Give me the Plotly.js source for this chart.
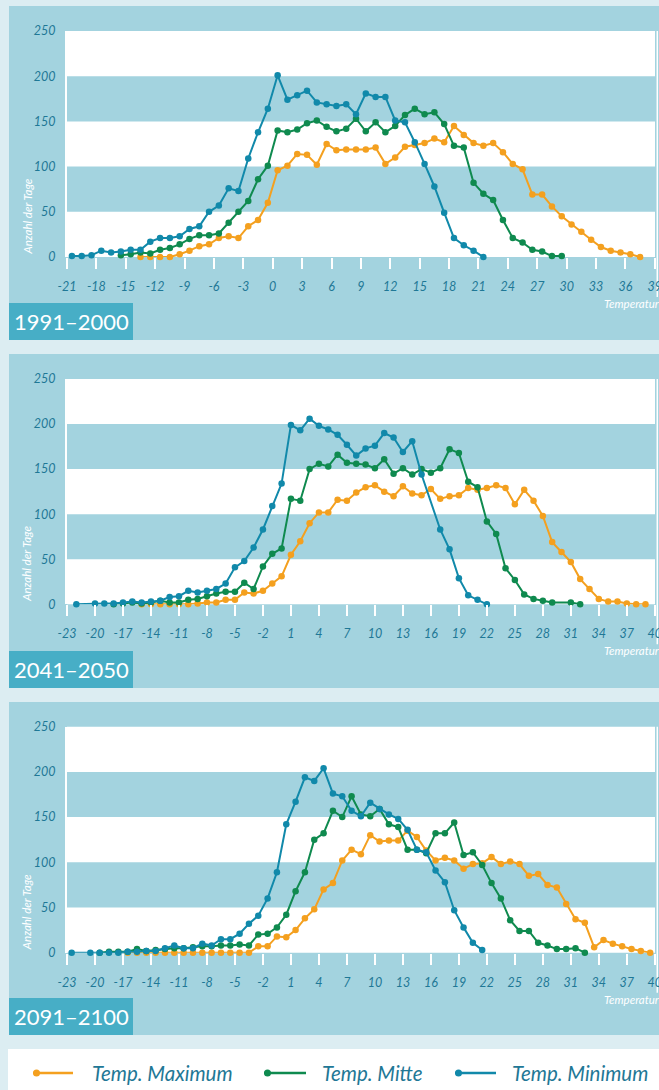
<!DOCTYPE html>
<html><head><meta charset="utf-8">
<script src="https://cdn.plot.ly/plotly-3.0.1.min.js"></script>
<style>html,body{margin:0;padding:0;background:#dcedf2;}#chart{width:659px;height:1090px;}</style>
</head><body><div id="chart"></div>
<script>
// ---------- DATA ----------
const seriesNames = ["Temp. Maximum", "Temp. Mitte", "Temp. Minimum"];
const periods = ["1991–2000", "2041–2050", "2091–2100"];
const yTickVals = [0, 50, 100, 150, 200, 250];

// 1991–2000
const p1MaxT = [-13.5,-12.5,-11.5,-10.5,-9.5,-8.5,-7.5,-6.5,-5.5,-4.5,-3.5,-2.5,-1.5,-0.5,0.5,1.5,2.5,3.5,4.5,5.5,6.5,7.5,8.5,9.5,10.5,11.5,12.5,13.5,14.5,15.5,16.5,17.5,18.5,19.5,20.5,21.5,22.5,23.5,24.5,25.5,26.5,27.5,28.5,29.5,30.5,31.5,32.5,33.5,34.5,35.5,36.5,37.5];
const p1MaxN = [0,0,0,0,3,7,12,14,21,23,21,34,41,60,96,101,114,113,102,125,118,119,119,119,121,103,110,122,124,126,131,127,145,135,126,123,126,116,103,97,69,69,56,45,36,28,19,11,7,5,3,0];
const p1MidT = [-15.5,-14.5,-13.5,-12.5,-11.5,-10.5,-9.5,-8.5,-7.5,-6.5,-5.5,-4.5,-3.5,-2.5,-1.5,-0.5,0.5,1.5,2.5,3.5,4.5,5.5,6.5,7.5,8.5,9.5,10.5,11.5,12.5,13.5,14.5,15.5,16.5,17.5,18.5,19.5,20.5,21.5,22.5,23.5,24.5,25.5,26.5,27.5,28.5,29.5];
const p1MidN = [2,3,5,4,8,10,14,20,24,24,26,38,50,62,86,101,140,138,141,148,151,144,139,142,153,139,149,138,145,157,164,158,160,147,123,121,82,70,63,41,21,16,8,6,1,1];
const p1MinT = [-20.5,-19.5,-18.5,-17.5,-16.5,-15.5,-14.5,-13.5,-12.5,-11.5,-10.5,-9.5,-8.5,-7.5,-6.5,-5.5,-4.5,-3.5,-2.5,-1.5,-0.5,0.5,1.5,2.5,3.5,4.5,5.5,6.5,7.5,8.5,9.5,10.5,11.5,12.5,13.5,14.5,15.5,16.5,17.5,18.5,19.5,20.5,21.5];
const p1MinN = [1,1,2,7,5,6,8,8,17,21,21,23,31,34,50,57,76,73,109,138,164,201,174,179,184,171,169,167,169,158,181,177,177,151,149,127,103,78,49,21,13,7,0];

// 2041–2050
const p2MaxT = [-15,-14,-13,-12,-11,-10,-9,-8,-7,-6,-5,-4,-3,-2,-1,0,1,2,3,4,5,6,7,8,9,10,11,12,13,14,15,16,17,18,19,20,21,22,23,24,25,26,27,28,29,30,31,32,33,34,35,36,37,38,39];
const p2MaxN = [0,0,0,0,0,0,1,2,2,5,5,13,12,15,23,31,55,70,90,102,102,116,115,124,130,132,125,120,131,123,121,128,117,120,121,129,127,129,132,129,111,127,115,98,69,58,47,28,17,6,3,3,1,0,0];
const p2MidT = [-18,-17,-16,-15,-14,-13,-12,-11,-10,-9,-8,-7,-6,-5,-4,-3,-2,-1,0,1,2,3,4,5,6,7,8,9,10,11,12,13,14,15,16,17,18,19,20,21,22,23,24,25,26,27,28,29,31,32];
const p2MidN = [0,1,2,1,2,4,2,2,5,6,9,12,14,14,24,17,42,56,62,117,115,150,156,153,166,157,156,155,151,161,145,151,144,150,146,151,172,168,136,130,92,78,40,27,11,6,4,2,2,0];
const p2MinT = [-22,-20,-19,-18,-17,-16,-15,-14,-13,-12,-11,-10,-9,-8,-7,-6,-5,-4,-3,-2,-1,0,1,2,3,4,5,6,7,8,9,10,11,12,13,14,15,17,18,19,20,21,22];
const p2MinN = [0,1,1,1,2,3,2,3,4,8,9,15,13,15,17,23,41,48,63,83,109,134,199,193,206,198,194,188,177,165,173,176,190,185,169,181,144,83,61,29,10,5,0];

// 2091–2100
const p3MaxT = [-16.5,-15.5,-14.5,-13.5,-12.5,-11.5,-10.5,-9.5,-8.5,-7.5,-6.5,-5.5,-4.5,-3.5,-2.5,-1.5,-0.5,0.5,1.5,2.5,3.5,4.5,5.5,6.5,7.5,8.5,9.5,10.5,11.5,12.5,13.5,14.5,15.5,16.5,17.5,18.5,19.5,20.5,21.5,22.5,23.5,24.5,25.5,26.5,27.5,28.5,29.5,30.5,31.5,32.5,33.5,34.5,35.5,36.5,37.5,38.5,39.5];
const p3MaxN = [0,0,0,0,0,0,0,0,0,0,0,0,0,0,7,7,18,17,25,38,48,70,77,102,114,109,130,123,124,124,135,128,113,102,105,102,93,98,99,106,98,101,98,85,87,75,72,54,37,33,6,14,10,7,4,2,0];
const p3MidT = [-19.5,-18.5,-17.5,-16.5,-15.5,-14.5,-13.5,-12.5,-11.5,-10.5,-9.5,-8.5,-7.5,-6.5,-5.5,-4.5,-3.5,-2.5,-1.5,-0.5,0.5,1.5,2.5,3.5,4.5,5.5,6.5,7.5,8.5,9.5,10.5,11.5,12.5,13.5,14.5,15.5,16.5,17.5,18.5,19.5,20.5,21.5,22.5,23.5,24.5,25.5,26.5,27.5,28.5,29.5,30.5,31.5,32.5];
const p3MidN = [0,1,1,1,4,2,3,4,5,5,6,7,7,8,8,9,8,20,21,28,42,68,89,125,132,157,150,173,153,151,159,142,139,114,114,110,132,132,144,108,111,97,77,60,36,24,24,11,8,4,4,5,0];
const p3MinT = [-22.5,-20.5,-19.5,-18.5,-17.5,-16.5,-15.5,-14.5,-13.5,-12.5,-11.5,-10.5,-9.5,-8.5,-7.5,-6.5,-5.5,-4.5,-3.5,-2.5,-1.5,-0.5,0.5,1.5,2.5,3.5,4.5,5.5,6.5,7.5,8.5,9.5,10.5,11.5,12.5,13.5,14.5,15.5,16.5,17.5,18.5,19.5,20.5,21.5];
const p3MinN = [0,0,0,0,0,1,1,2,2,5,8,5,5,10,8,15,15,21,32,41,60,89,142,167,194,190,204,176,173,157,151,166,159,153,148,136,114,111,91,78,47,28,11,3];

const p1XTicks = [-21,-18,-15,-12,-9,-6,-3,0,3,6,9,12,15,18,21,24,27,30,33,36,39];
const p23XTicks = [-23,-20,-17,-14,-11,-8,-5,-2,1,4,7,10,13,16,19,22,25,28,31,34,37,40];

// ---------- STYLE / LAYOUT ----------
const W = 659, H = 1090;
const X = v => v / W, Y = v => 1 - v / H;
const colors = ["#f4a01f", "#0f8a4f", "#1189aa"];
const PAGE = "#dcedf2", FRAME = "#a3d3df", TAG = "#47aec6", TXT = "#1f7896";
const FONT = "Lato, 'Open Sans', sans-serif";

const panels = [
  {T:[p1MaxT,p1MidT,p1MinT], N:[p1MaxN,p1MidN,p1MinN], ticks:p1XTicks, range:[-21,39.02], frame:[6,340], plot:[31,257], tag:303},
  {T:[p2MaxT,p2MidT,p2MinT], N:[p2MaxN,p2MidN,p2MinN], ticks:p23XTicks, range:[-23,40.02], frame:[354,688], plot:[379,604.3], tag:651},
  {T:[p3MaxT,p3MidT,p3MinT], N:[p3MaxN,p3MidN,p3MinN], ticks:p23XTicks, range:[-23,40.02], frame:[702,1035], plot:[726.7,952.7], tag:998}
];

const traces = [], shapes = [], annotations = [];
const layout = {
  width: W, height: H, margin:{l:0,r:0,t:0,b:0},
  paper_bgcolor: PAGE, plot_bgcolor: "rgba(0,0,0,0)",
  showlegend: false, font:{family: FONT}
};

const tickFont = {family: FONT, size: 12.5, color: TXT, style: "italic"};

panels.forEach((p, i) => {
  const sfx = i === 0 ? "" : String(i + 1);
  const xa = "x" + sfx, ya = "y" + sfx;
  const zero = p.plot[1];
  layout["xaxis" + sfx] = {
    domain:[X(67), X(655)], range:p.range, anchor:ya,
    tickmode:"array", tickvals:p.ticks, ticktext:p.ticks.map(String),
    ticks:"outside", ticklen:11, tickwidth:2, tickcolor:"#ffffff",
    ticklabelstandoff:7, ticklabeloverflow:"allow",
    showgrid:false, zeroline:false, showline:false, tickfont:tickFont, fixedrange:true
  };
  layout["yaxis" + sfx] = {
    domain:[Y(p.plot[1]), Y(p.plot[0])], range:[0,250], anchor:xa,
    tickmode:"array", tickvals:yTickVals, ticks:"", ticklabelstandoff:7,
    showgrid:false, zeroline:false, showline:true, linecolor:"#ffffff", linewidth:2,
    tickfont:tickFont, fixedrange:true
  };
  // frame & period tag
  shapes.push({type:"rect", xref:"paper", yref:"paper", x0:X(9), x1:X(659), y0:Y(p.frame[1]), y1:Y(p.frame[0]), fillcolor:FRAME, line:{width:0}, layer:"below"});
  shapes.push({type:"rect", xref:"paper", yref:"paper", x0:X(9), x1:X(133), y0:Y(p.frame[1]), y1:Y(p.tag), fillcolor:TAG, line:{width:0}, layer:"below"});
  // plot area + bands
  shapes.push({type:"rect", xref:xa+" domain", yref:ya+" domain", x0:0, x1:1, y0:0, y1:1, fillcolor:"#ffffff", line:{width:0}, layer:"below"});
  [[50,100],[150,200]].forEach(b => shapes.push({type:"rect", xref:xa+" domain", yref:ya, x0:0, x1:1, y0:b[0], y1:b[1], fillcolor:FRAME, line:{width:0}, layer:"below"}));
  // right edge light line
  shapes.push({type:"line", xref:"paper", yref:"paper", x0:X(657.3), x1:X(657.3), y0:Y(zero+40), y1:Y(p.plot[0]), line:{color:"#ffffff", width:1.5}, layer:"below"});

  annotations.push({xref:"paper", yref:"paper", x:X(71), y:Y((p.tag+p.frame[1])/2), text:periods[i], showarrow:false, xanchor:"center", yanchor:"middle", font:{family:FONT, size:22, color:"#ffffff"}});
  annotations.push({xref:"paper", yref:"paper", x:X(26.5), y:Y(zero-41), text:"Anzahl der Tage", textangle:-90, showarrow:false, xanchor:"center", yanchor:"middle", font:{family:FONT, size:11.5, color:"#ffffff", style:"italic"}});
  annotations.push({xref:"paper", yref:"paper", x:X(602), y:Y(zero+46.5), text:"Temperatur", showarrow:false, xanchor:"left", yanchor:"middle", font:{family:FONT, size:11.5, color:"#ffffff", style:"italic"}});

  for (let s = 0; s < 3; s++) {
    traces.push({
      type:"scatter", mode:"lines+markers", name:seriesNames[s],
      x:p.T[s], y:p.N[s], xaxis:xa, yaxis:ya, cliponaxis:false,
      line:{color:colors[s], width:2}, marker:{color:colors[s], size:6.5},
      hoverinfo:"x+y+name", showlegend:false
    });
  }
});

// legend (manual)
shapes.push({type:"rect", xref:"paper", yref:"paper", x0:X(8), x1:X(659), y0:Y(1090), y1:Y(1049), fillcolor:"#ffffff", line:{width:0}, layer:"below"});
const legItems = [{x0:33, x1:73, tx:90}, {x0:264, x1:306, tx:320}, {x0:455, x1:496, tx:510}];
legItems.forEach((it, s) => {
  const ly = 1073;
  shapes.push({type:"line", xref:"paper", yref:"paper", x0:X(it.x0), x1:X(it.x1), y0:Y(ly), y1:Y(ly), line:{color:colors[s], width:2.5}});
  shapes.push({type:"circle", xref:"paper", yref:"paper", x0:X(it.x0), x1:X(it.x0+7), y0:Y(ly+3.5), y1:Y(ly-3.5), fillcolor:colors[s], line:{width:0}});
  annotations.push({xref:"paper", yref:"paper", x:X(it.tx), y:Y(ly), text:seriesNames[s], showarrow:false, xanchor:"left", yanchor:"middle", font:{family:FONT, size:20.5, color:TXT, style:"italic"}});
});

layout.shapes = shapes;
layout.annotations = annotations;
Plotly.newPlot("chart", traces, layout, {displayModeBar:false, staticPlot:true});
</script></body></html>
